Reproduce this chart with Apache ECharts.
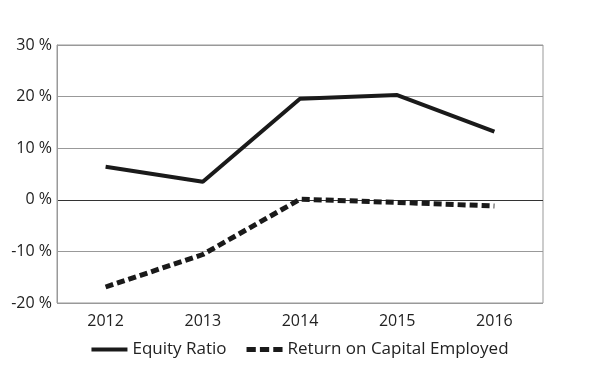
<!DOCTYPE html>
<html><head><meta charset="utf-8">
<script src="https://cdn.jsdelivr.net/npm/echarts@6/dist/echarts.min.js"></script>
<style>html,body{margin:0;padding:0;background:#fff}#c{width:600px;height:388px}</style>
</head><body><div id="c"></div>
<script>
const categories = ['2012','2013','2014','2015','2016'];
const equityRatio = [6.4, 3.5, 19.6, 20.3, 13.2];
const roce = [-16.9, -10.6, 0.1, -0.5, -1.2];
const yTicks = [-20, -10, 0, 10, 20, 30];

const chart = echarts.init(document.getElementById('c'));
chart.setOption({
  animation: false,
  backgroundColor: '#fff',
  grid: { left: 57, right: 57, top: 45, bottom: 85, show: true, borderColor: '#999', borderWidth: 1 },
  legend: {
    bottom: 25, left: 'center', itemWidth: 36, itemHeight: 12, itemGap: 20,
    textStyle: { fontFamily: 'Open Sans', fontSize: 17, color: '#222' },
    data: [
      { name: 'Equity Ratio', icon: 'path://M0,0 L36,0 L36,4 L0,4 Z', itemStyle: { color: '#1a1a1a' } },
      { name: 'Return on Capital Employed', icon: 'path://M0,0 L9,0 L9,5 L0,5 Z M13,0 L22,0 L22,5 L13,5 Z M26,0 L35,0 L35,5 L26,5 Z', itemStyle: { color: '#1a1a1a' } }
    ]
  },
  xAxis: {
    type: 'category', data: categories, boundaryGap: true,
    axisLine: { show: false }, axisTick: { show: false },
    axisLabel: { fontFamily: 'Open Sans', fontSize: 16, color: '#222', margin: 10 }
  },
  yAxis: {
    type: 'value', min: -20, max: 30, interval: 10,
    axisLine: { show: true, lineStyle: { color: '#999' } }, axisTick: { show: false },
    axisLabel: { fontFamily: 'Open Sans', fontSize: 16, color: '#222', margin: 5,
      formatter: v => yTicks.includes(v) ? v + ' %' : '' },
    splitLine: { lineStyle: { color: ['#999', '#999', '#333', '#999', '#999', '#999'], width: 1 } }
  },
  series: [
    { name: 'Equity Ratio', type: 'line', data: equityRatio, symbol: 'none',
      lineStyle: { color: '#1a1a1a', width: 4 }, itemStyle: { color: '#1a1a1a' } },
    { name: 'Return on Capital Employed', type: 'line', data: roce, symbol: 'none',
      lineStyle: { color: '#1a1a1a', width: 5, type: [8, 4] }, itemStyle: { color: '#1a1a1a' } }
  ]
});
</script></body></html>
